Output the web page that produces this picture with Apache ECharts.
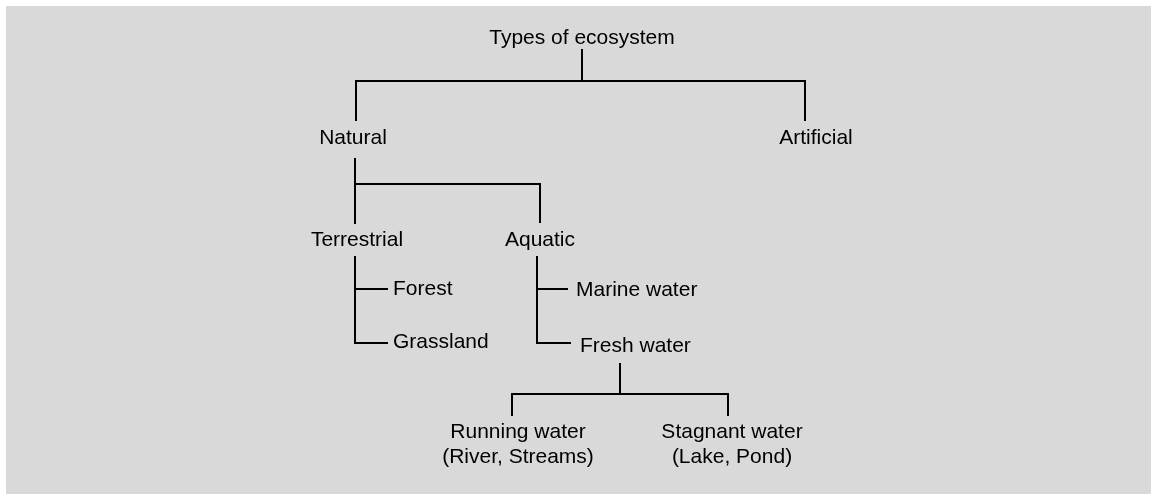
<!DOCTYPE html>
<html>
<head>
<meta charset="utf-8">
<script src="https://cdn.jsdelivr.net/npm/echarts@6/dist/echarts.min.js"></script>
<style>
  html, body { margin: 0; padding: 0; background: #fff; }
  #main { width: 1151px; height: 494px; }
</style>
</head>
<body>
<div id="main"></div>
<script>
// tree content
var nodeNames = ['Types of ecosystem', 'Natural', 'Artificial', 'Terrestrial', 'Aquatic',
  'Forest', 'Grassland', 'Marine water', 'Fresh water',
  'Running water\n(River, Streams)', 'Stagnant water\n(Lake, Pond)'];
var parentIndex = [-1, 0, 0, 1, 1, 3, 3, 4, 4, 8, 8];
var linkKind = ['', 'bracket', 'bracket', 'bracket', 'bracket', 'side', 'side', 'side', 'side', 'bracket', 'bracket'];

// layout in diagram units (axis units)
var labelX  = [582, 353, 816, 357, 540, 393, 393, 576, 580, 518, 732];
var labelY  = [38, 138, 138, 240, 240, 289, 342, 290, 346, 444.5, 444.5];
var branchY = [0, 0, 0, 0, 0, 289, 343, 289, 343, 0, 0];
var inX     = [0, 356, 805, 355, 540, 387, 387, 567, 570, 512, 728];
var topY    = [0, 120, 120, 223, 222, 0, 0, 0, 0, 415, 415];
var outX    = [582, 355, 0, 355, 537, 0, 0, 0, 620, 0, 0];
var bottomY = [50, 159, 0, 257, 257, 0, 0, 0, 364, 0, 0];
var barY    = [81, 184, 0, 0, 0, 0, 0, 0, 394, 0, 0];

var myChart = echarts.init(document.getElementById('main'));

var data = nodeNames.map(function (n, i) {
  return [labelX[i], labelY[i], i];
});

function renderItem(params, api) {
  var i = params.dataIndex;
  var p = parentIndex[i];
  var kids = [];
  var pos = api.coord([labelX[i], labelY[i]]);
  if (p >= 0) {
    var pts;
    if (linkKind[i] === 'bracket') {
      pts = [
        api.coord([outX[p], bottomY[p]]),
        api.coord([outX[p], barY[p]]),
        api.coord([inX[i], barY[p]]),
        api.coord([inX[i], topY[i]])
      ];
    } else {
      pts = [
        api.coord([outX[p], bottomY[p]]),
        api.coord([outX[p], branchY[i]]),
        api.coord([inX[i], branchY[i]])
      ];
    }
    kids.push({
      type: 'polyline',
      shape: { points: pts },
      style: { stroke: '#000', lineWidth: 2, fill: null, lineJoin: 'miter', lineCap: 'square' }
    });
  }
  kids.push({
    type: 'text',
    style: {
      text: nodeNames[i],
      x: pos[0],
      y: pos[1],
      align: linkKind[i] === 'side' ? 'left' : 'center',
      verticalAlign: 'middle',
      fill: '#000',
      font: '21px "Liberation Sans", Arial, sans-serif',
      lineHeight: 25
    }
  });
  return { type: 'group', children: kids };
}

var option = {
  backgroundColor: '#fff',
  animation: false,
  grid: {
    show: true, left: 6, top: 6, right: 0, bottom: 0,
    backgroundColor: '#d9d9d9', borderWidth: 0
  },
  xAxis: { type: 'value', min: 6, max: 1151, show: false },
  yAxis: { type: 'value', min: 6, max: 494, inverse: true, show: false },
  series: [{
    type: 'custom',
    coordinateSystem: 'cartesian2d',
    renderItem: renderItem,
    data: data,
    encode: { x: 0, y: 1 },
    silent: true
  }]
};
myChart.setOption(option);
</script>
</body>
</html>
